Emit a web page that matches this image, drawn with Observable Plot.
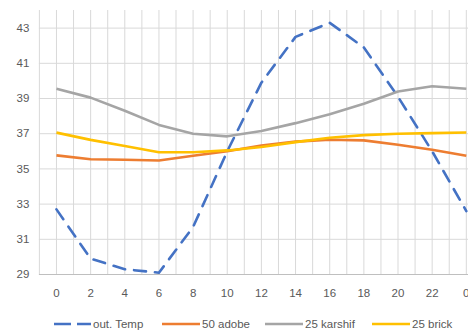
<!DOCTYPE html>
<html>
<head>
<meta charset="utf-8">
<script src="https://cdn.jsdelivr.net/npm/d3@7"></script>
<script src="https://cdn.jsdelivr.net/npm/@observablehq/plot@0.6"></script>
<style>
  html, body { margin: 0; padding: 0; background: #fff; overflow: hidden; }
  body { width: 468px; height: 331px; font-family: "Liberation Sans", Arial, sans-serif; }
  #chart svg { display: block; }
  #legend { position: relative; height: 26px; margin-top: 6px; font-size: 11.5px; color: #595959; }
  .item { position: absolute; top: 0; height: 26px; display: flex; align-items: center; }
  .item svg { display: block; margin-right: 2px; }
</style>
</head>
<body>
<div id="chart"></div>
<div id="legend"></div>
<script>
// Hour of day for each reading (the cycle closes back on 0)
const hours = ["0", "2", "4", "6", "8", "10", "12", "14", "16", "18", "20", "22", "0"];

// Temperatures (°C)
const outTemp   = [32.7, 29.9, 29.3, 29.1, 31.7, 36.0, 39.9, 42.5, 43.3, 41.9, 39.1, 36.0, 32.6];
const adobe50   = [35.77, 35.55, 35.52, 35.48, 35.75, 36.0, 36.33, 36.55, 36.66, 36.62, 36.37, 36.09, 35.75];
const karshif25 = [39.55, 39.05, 38.3, 37.5, 37.0, 36.85, 37.15, 37.6, 38.1, 38.7, 39.4, 39.7, 39.55];
const brick25   = [37.06, 36.65, 36.3, 35.95, 35.95, 36.05, 36.24, 36.52, 36.77, 36.92, 37.0, 37.03, 37.07];

const seriesNames  = ["out. Temp", "50 adobe", "25 karshif", "25 brick"];
const seriesValues = [outTemp, adobe50, karshif25, brick25];
const seriesColors = ["#4472C4", "#ED7D31", "#A5A5A5", "#FFC000"];

const yTicks = [29, 31, 33, 35, 37, 39, 41, 43];

const rows = seriesValues.flatMap((vals, s) =>
  vals.map((v, i) => ({series: seriesNames[s], i, v})));

const textColor = "#595959";
const xGrid = d3.range(-0.5, hours.length, 0.5);

const chart = Plot.plot({
  width: 468,
  height: 305,
  marginLeft: 38.9, marginRight: 0, marginTop: 10, marginBottom: 31,
  style: {fontFamily: "Liberation Sans, Arial, sans-serif", fontSize: "11px", color: textColor, background: "#fff"},
  x: {domain: [-0.5, hours.length - 0.5], range: [38.9, 482.9]},
  y: {domain: [29, 44], range: [274, 10]},
  marks: [
    Plot.gridX(xGrid, {stroke: "#d9d9d9", strokeOpacity: 1}),
    Plot.gridY(yTicks.slice(1), {stroke: "#d9d9d9", strokeOpacity: 1}),
    Plot.ruleY([29], {stroke: "#bfbfbf", strokeWidth: 1}),
    Plot.axisY(yTicks, {tickSize: 0, tickPadding: 10, fill: textColor, fontSize: 11.5, label: null}),
    Plot.axisX(d3.range(hours.length), {tickSize: 0, tickPadding: 14, fill: textColor, fontSize: 11.5,
      tickFormat: i => hours[i], label: null}),
    ...seriesNames.map((name, s) =>
      Plot.line(rows.filter(d => d.series === name), {
        x: "i", y: "v",
        stroke: seriesColors[s],
        strokeWidth: 2.6,
        strokeLinejoin: "round",
        strokeLinecap: s === 0 ? "round" : "butt",
        strokeDasharray: s === 0 ? "12,9" : null
      }))
  ]
});
document.getElementById("chart").append(chart);

// Legend below the chart
const legend = document.getElementById("legend");
const legendLeft = [53, 162, 265, 372];
seriesNames.forEach((name, s) => {
  const item = document.createElement("div");
  item.className = "item";
  item.style.left = legendLeft[s] + "px";
  const dash = s === 0 ? ' stroke-dasharray="17,6" stroke-dashoffset="-1"' : "";
  item.innerHTML =
    `<svg width="38" height="6"><line x1="0" y1="3" x2="38" y2="3" stroke="${seriesColors[s]}" stroke-width="2.6"${dash}/></svg><span>${name}</span>`;
  legend.append(item);
});
</script>
</body>
</html>
